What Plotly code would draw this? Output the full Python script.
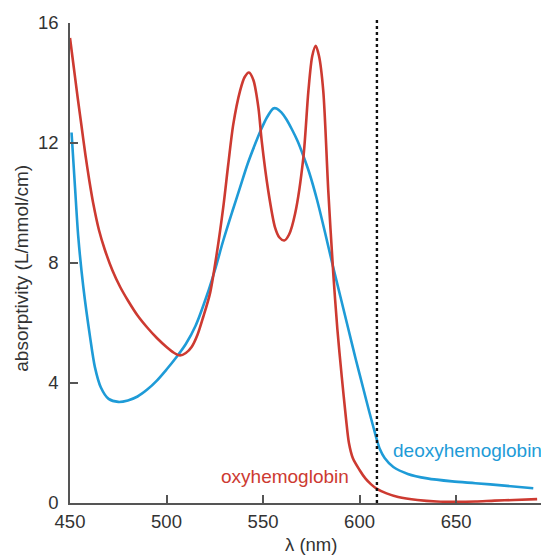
import plotly.graph_objects as go

# oxyhemoglobin (red)
oxy_nm = [450, 452, 454, 456, 458, 460, 462, 465, 468, 472, 476, 480, 485, 490, 495, 500, 504,
          507, 510, 513, 516, 519, 522.5, 526, 529.4, 532, 534.6, 538.1, 540.5, 542.7, 545,
          547.6, 549.3, 552.7, 556.2, 558.5, 561, 563.5, 566.6, 570.9, 573.5, 575.5, 577.3,
          579, 581.2, 583.8, 586.4, 588.5, 590.8, 593, 594.5, 596.5, 600, 603, 606, 609, 614,
          620, 630, 640, 650, 660, 670, 680, 692]
oxy_val = [15.5, 14.5, 13.5, 12.55, 11.6, 10.75, 10.0, 9.1, 8.45, 7.75, 7.2, 6.75, 6.25, 5.85,
           5.5, 5.2, 5.0, 4.92, 5.0, 5.2, 5.6, 6.2, 6.98, 8.3, 9.86, 11.3, 12.63, 13.74, 14.2,
           14.35, 14.1, 13.18, 12.08, 10.41, 9.19, 8.85, 8.75, 8.95, 9.64, 11.52, 13.74, 14.9,
           15.24, 14.9, 13.74, 10.41, 7.64, 5.8, 4.2, 2.8, 2.0, 1.5, 1.1, 0.82, 0.62, 0.47,
           0.32, 0.2, 0.1, 0.05, 0.04, 0.05, 0.08, 0.1, 0.13]

# deoxyhemoglobin (blue)
deoxy_nm = [450.8, 452.6, 454.3, 456.9, 460.4, 462.9, 466, 470, 475, 480, 485, 490, 495, 500,
            505, 510, 515, 520.8, 525, 529.4, 534, 538.1, 542, 546, 549, 552, 555.3, 557,
            559.5, 562, 565, 568, 571, 574, 578, 582, 586, 590, 594, 598, 602, 605, 607.5,
            609, 610.5, 613, 617.5, 625, 635, 648, 660, 675, 690]
deoxy_val = [12.35, 10.52, 8.86, 7.2, 5.53, 4.53, 3.85, 3.47, 3.37, 3.42, 3.55, 3.78, 4.08,
             4.45, 4.85, 5.3, 5.9, 6.9, 7.75, 8.75, 9.7, 10.52, 11.3, 11.98, 12.45, 12.85,
             13.15, 13.15, 13.02, 12.8, 12.45, 12.05, 11.55, 11.0, 10.1, 9.05, 7.95, 6.9,
             5.85, 4.8, 3.8, 3.05, 2.45, 2.1, 1.8, 1.5, 1.2, 0.97, 0.82, 0.72, 0.66, 0.58, 0.49]

x_ticks = [450, 500, 550, 600, 650]
y_ticks = [0, 4, 8, 12, 16]
cutoff_nm = 609

RED = "#cd3a31"
BLUE = "#1e9bd7"
AX = "#555555"
TXT = "#333333"
FONT = "Liberation Sans, Arial, sans-serif"

fig = go.Figure()
fig.add_trace(go.Scatter(x=deoxy_nm, y=deoxy_val, mode="lines", name="deoxyhemoglobin",
                         line=dict(color=BLUE, width=2.6, shape="spline", smoothing=0.8)))
fig.add_trace(go.Scatter(x=oxy_nm, y=oxy_val, mode="lines", name="oxyhemoglobin",
                         line=dict(color=RED, width=2.6, shape="spline", smoothing=0.8)))

fig.add_shape(type="line", x0=cutoff_nm, x1=cutoff_nm, xref="x", yref="paper", y0=0, y1=1.008,
              line=dict(color="#111111", width=2.4, dash="dot"))

fig.add_annotation(x=561.4, y=0.875, xref="x", yref="y", text="oxyhemoglobin",
                   showarrow=False, xanchor="center", yanchor="middle",
                   font=dict(color=RED, size=19, family=FONT))
fig.add_annotation(x=616.3, y=1.76, xref="x", yref="y", text="deoxyhemoglobin",
                   showarrow=False, xanchor="left", yanchor="middle",
                   font=dict(color=BLUE, size=19, family=FONT))

fig.add_annotation(x=0.512, y=-0.087, xref="paper", yref="paper", text="λ (nm)",
                   showarrow=False, xanchor="center", yanchor="middle",
                   font=dict(color=TXT, size=18.5, family=FONT))
fig.add_annotation(x=-0.102, y=0.49, xref="paper", yref="paper",
                   text="absorptivity (L/mmol/cm)", textangle=-90,
                   showarrow=False, xanchor="center", yanchor="middle",
                   font=dict(color=TXT, size=19, family=FONT))

fig.update_layout(
    width=541, height=557,
    margin=dict(l=70, r=0, t=23, b=54),
    paper_bgcolor="white", plot_bgcolor="white",
    showlegend=False,
    font=dict(family=FONT, size=18.5, color=TXT),
)
fig.update_xaxes(range=[450, 694], tickvals=x_ticks, ticks="inside", ticklen=8, tickwidth=1.5,
                 tickcolor=AX, showline=True, linecolor=AX, linewidth=1.5, showgrid=False,
                 zeroline=False, ticklabelstandoff=1)
fig.update_yaxes(range=[0, 16], tickvals=y_ticks, ticks="inside", ticklen=8, tickwidth=1.5,
                 tickcolor=AX, showline=True, linecolor=AX, linewidth=1.5, showgrid=False,
                 zeroline=False, ticklabelstandoff=6)

fig.write_html("out.html")
